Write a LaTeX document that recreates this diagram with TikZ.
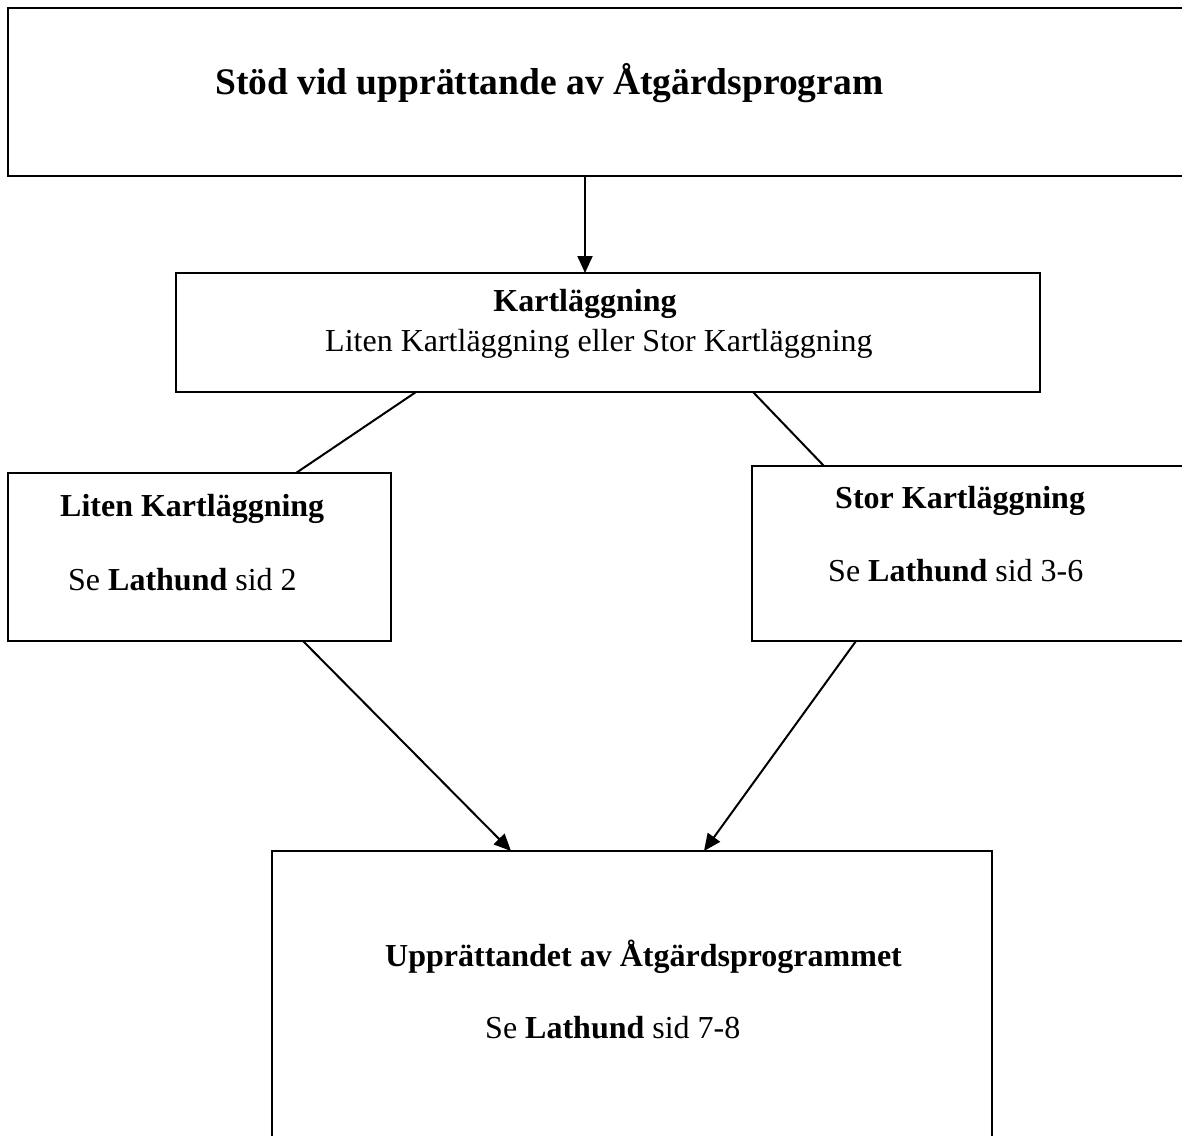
\documentclass[tikz,border=0pt]{standalone}
\usepackage{fontspec}
\setmainfont{Liberation Serif}
\usetikzlibrary{arrows.meta}
\begin{document}
\begin{tikzpicture}[x=1pt,y=-1pt,
  box/.style={draw=black, line width=2.4pt, inner sep=0pt, outer sep=0pt, anchor=north west},
  conn/.style={draw=black, line width=2pt},
  arr/.style={conn, -{Triangle[length=17pt,width=15pt]}},
  txt/.style={inner sep=0pt, anchor=base west, font=\fontsize{32}{38}\selectfont},
  ttl/.style={inner sep=0pt, anchor=base west, font=\fontsize{37.5}{44}\selectfont\bfseries}]
\useasboundingbox (0,0) rectangle (1182,1135);
\clip (0,0) rectangle (1182,1135);
\fill[white] (0,0) rectangle (1182,1135);
% boxes
\node[box, minimum width=1200pt, minimum height=168pt] (top) at (8,8) {};
\node[box, minimum width=864pt, minimum height=119pt] (kart) at (176,273) {};
\node[box, minimum width=383pt, minimum height=168pt] (liten) at (8,473) {};
\node[box, minimum width=450pt, minimum height=175pt] (stor) at (752,466) {};
\node[box, minimum width=720pt, minimum height=300pt] (bot) at (272,851) {};
% texts
\node[ttl] (ttitle) at (215,94) {Stöd vid upprättande av Åtgärdsprogram};
\node[txt, anchor=base] (tkart) at (585,311) {\textbf{Kartläggning}};
\node[txt] (tkart2) at (325,351) {Liten Kartläggning eller Stor Kartläggning};
\node[txt] (tliten) at (60,516) {\textbf{Liten Kartläggning}};
\node[txt] (tliten2) at (68,590) {Se \textbf{Lathund} sid 2};
\node[txt] (tstor) at (835,508) {\textbf{Stor Kartläggning}};
\node[txt] (tstor2) at (828,581) {Se \textbf{Lathund} sid 3-6};
\node[txt] (tbot) at (385,966) {\textbf{Upprättandet av Åtgärdsprogrammet}};
\node[txt] (tbot2) at (485,1038) {Se \textbf{Lathund} sid 7-8};
% connectors
\draw[arr] ([xshift=577pt]top.south west) -- ([xshift=409pt]kart.north west);
\draw[conn] ([xshift=240pt]kart.south west) -- ([xshift=288pt]liten.north west);
\draw[conn] ([xshift=577pt]kart.south west) -- ([xshift=72pt]stor.north west);
\draw[arr] ([xshift=295pt]liten.south west) -- ([xshift=239pt]bot.north west);
\draw[arr] ([xshift=104pt]stor.south west) -- ([xshift=432pt]bot.north west);
\end{tikzpicture}
\end{document}
